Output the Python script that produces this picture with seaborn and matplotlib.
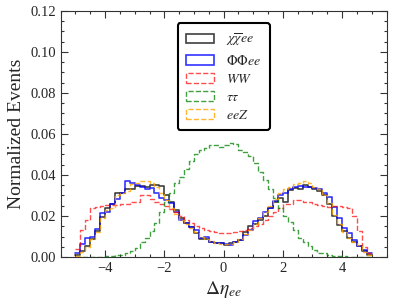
import numpy as np
import pandas as pd
import seaborn as sns
import matplotlib
matplotlib.use('Agg')
import matplotlib.pyplot as plt
from matplotlib.patches import Patch
from matplotlib.ticker import MultipleLocator

# 60 bins of width 1/6 between -5 and 5
bin_edges = np.linspace(-5, 5, 61)
bin_centers = 0.5 * (bin_edges[:-1] + bin_edges[1:])

chichi_ee = [0.001, 0.003, 0.0054, 0.009, 0.0128, 0.0195, 0.0238, 0.026, 0.031, 0.031,
             0.0333, 0.033, 0.0345, 0.0345, 0.034, 0.035, 0.035, 0.0345, 0.030, 0.027,
             0.023, 0.019, 0.0166, 0.0148, 0.0115, 0.009, 0.009, 0.0075, 0.0067, 0.0067,
             0.006, 0.0067, 0.0075, 0.0083, 0.0124, 0.015, 0.016, 0.018, 0.020, 0.0237,
             0.027, 0.0286, 0.027, 0.0327, 0.0335, 0.033, 0.035, 0.034, 0.033, 0.032,
             0.030, 0.026, 0.020, 0.0155, 0.0125, 0.0095, 0.0075, 0.0055, 0.003, 0.0012]

phiphi_ee = [0.002, 0.0065, 0.0095, 0.0098, 0.0135, 0.0215, 0.022, 0.0258, 0.0285, 0.031,
             0.037, 0.036, 0.035, 0.034, 0.033, 0.0335, 0.031, 0.0286, 0.028, 0.0265,
             0.022, 0.0181, 0.0164, 0.0148, 0.0132, 0.0091, 0.0099, 0.0075, 0.0067, 0.0067,
             0.0063, 0.0059, 0.0075, 0.0085, 0.0105, 0.0132, 0.0178, 0.019, 0.022, 0.024,
             0.0275, 0.030, 0.0314, 0.033, 0.034, 0.0346, 0.0343, 0.034, 0.0335, 0.033,
             0.0314, 0.0294, 0.0245, 0.019, 0.0142, 0.0115, 0.0083, 0.0052, 0.0036, 0.0022]

ww = [0.004, 0.013, 0.018, 0.024, 0.0245, 0.025, 0.0255, 0.0255, 0.0255, 0.026,
      0.026, 0.027, 0.027, 0.030, 0.030, 0.0285, 0.027, 0.026, 0.025, 0.0235,
      0.022, 0.020, 0.018, 0.0165, 0.015, 0.014, 0.013, 0.0125, 0.012, 0.0115,
      0.0115, 0.0115, 0.012, 0.0125, 0.013, 0.014, 0.015, 0.016, 0.018, 0.020,
      0.022, 0.024, 0.026, 0.026, 0.028, 0.028, 0.027, 0.027, 0.026, 0.0255,
      0.025, 0.0245, 0.025, 0.025, 0.0245, 0.024, 0.020, 0.0125, 0.005, 0.002]

tautau = [0.0, 0.0, 0.0, 0.0, 0.0001, 0.0002, 0.0003, 0.0005, 0.0008, 0.0012,
          0.0018, 0.003, 0.0045, 0.0075, 0.0095, 0.0125, 0.0165, 0.022, 0.027, 0.031,
          0.036, 0.039, 0.043, 0.047, 0.050, 0.052, 0.053, 0.0545, 0.0545, 0.0535,
          0.0545, 0.0555, 0.055, 0.052, 0.051, 0.049, 0.046, 0.0415, 0.0375, 0.033,
          0.029, 0.024, 0.020, 0.017, 0.013, 0.0095, 0.0075, 0.0055, 0.0035, 0.0022,
          0.0018, 0.001, 0.0007, 0.0004, 0.0003, 0.0002, 0.0001, 0.0, 0.0, 0.0]

eez = [0.0005, 0.0026, 0.005, 0.0086, 0.0124, 0.019, 0.023, 0.0237, 0.030, 0.031,
       0.032, 0.0355, 0.036, 0.037, 0.037, 0.036, 0.034, 0.0314, 0.028, 0.024,
       0.021, 0.018, 0.016, 0.014, 0.012, 0.010, 0.009, 0.008, 0.007, 0.0065,
       0.0062, 0.0065, 0.0072, 0.0088, 0.011, 0.013, 0.016, 0.019, 0.022, 0.025,
       0.0285, 0.031, 0.033, 0.034, 0.0355, 0.0362, 0.037, 0.0362, 0.034, 0.033,
       0.030, 0.0265, 0.0205, 0.016, 0.012, 0.0095, 0.0075, 0.0058, 0.0026, 0.001]

labels = [r'$\chi\overline{\chi}ee$', r'$\Phi\Phi ee$', r'$WW$', r'$\tau\tau$', r'$eeZ$']
series = [chichi_ee, phiphi_ee, ww, tautau, eez]
styles = [dict(color='black', linestyle='-', alpha=0.75, linewidth=1.2),
          dict(color='blue', linestyle='-', alpha=0.8, linewidth=1.2),
          dict(color='red', linestyle='--', alpha=0.7, linewidth=1.0),
          dict(color='green', linestyle='--', alpha=0.75, linewidth=1.0),
          dict(color='orange', linestyle='--', alpha=0.8, linewidth=1.0)]

sns.set_theme(style='ticks')
plt.rcParams['font.family'] = ['Liberation Serif', 'DejaVu Serif']
plt.rcParams['mathtext.fontset'] = 'stix'
plt.rcParams['axes.unicode_minus'] = True

fig = plt.figure(figsize=(3.94, 3.06), dpi=100)
ax = fig.add_axes([0.154, 0.160, 0.827, 0.805])

handles = []
for vals, lab, st in zip(series, labels, styles):
    df = pd.DataFrame({'deta': bin_centers, 'w': vals})
    sns.histplot(data=df, x='deta', weights='w', bins=list(bin_edges), element='step',
                 fill=False, ax=ax, **st)
    handles.append(Patch(facecolor='none', edgecolor=st['color'], linestyle=st['linestyle'],
                         linewidth=st['linewidth'], alpha=st['alpha'], label=lab))

ax.set_xlim(-5.5, 5.5)
ax.set_ylim(0, 0.12)
ax.set_xticks([-4, -2, 0, 2, 4])
ax.set_yticks([0.0, 0.02, 0.04, 0.06, 0.08, 0.10, 0.12])
ax.set_yticklabels(['0.00', '0.02', '0.04', '0.06', '0.08', '0.10', '0.12'])
ax.xaxis.set_minor_locator(MultipleLocator(0.5))
ax.yaxis.set_minor_locator(MultipleLocator(0.005))
ax.tick_params(which='both', direction='in', top=True, right=True, labelsize=10.5,
               color='#333333', width=0.8)
ax.tick_params(which='major', length=5)
ax.tick_params(which='minor', length=2.5)
for s in ax.spines.values():
    s.set_linewidth(0.8)
    s.set_color('#333333')

ax.set_xlabel(r'$\Delta\eta_{ee}$', fontsize=14, labelpad=3)
ax.set_ylabel('Normalized Events', fontsize=14, labelpad=4)

leg = ax.legend(handles=handles, loc='upper center', bbox_to_anchor=(0.5, 0.978),
                fontsize=10, frameon=True, fancybox=True, framealpha=1,
                edgecolor='black', labelspacing=0.36, handlelength=2.0,
                handletextpad=0.9, borderpad=0.6)
leg.get_frame().set_linewidth(1.5)

fig.savefig('out.png', dpi=100)
